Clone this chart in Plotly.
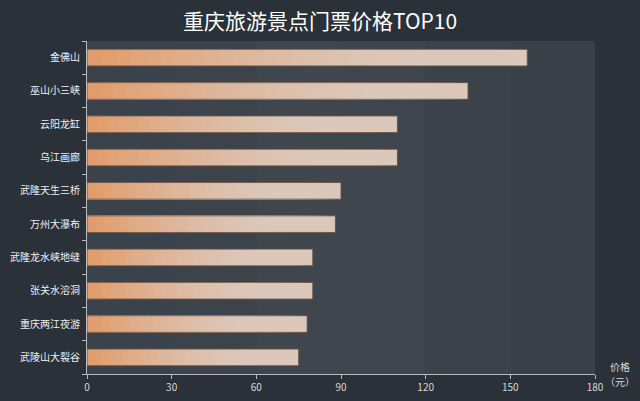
import plotly.graph_objects as go

# data
spots = ["金佛山", "巫山小三峡", "云阳龙缸", "乌江画廊", "武隆天生三桥",
         "万州大瀑布", "武隆龙水峡地缝", "张关水溶洞", "重庆两江夜游", "武陵山大裂谷"]
prices = [156, 135, 110, 110, 90, 88, 80, 80, 78, 75]
x_ticks = [0, 30, 60, 90, 120, 150, 180]

# background bands between the x ticks
band_colors = ["#3a424b", "#3d434b", "#40464e", "#3f454c", "#3c424a", "#3a4048"]

# bar gradient: orange at the base -> beige at the tip
start_rgb = (226, 155, 104)
end_rgb = (219, 200, 187)
n_layers = 30


def mix(t):
    # ease so the orange fades quickly and the tip stays beige
    t = min(1.0, t * 1.3)
    t = 1 - (1 - t) ** 1.5
    r, g, b = [round(a + (c - a) * t) for a, c in zip(start_rgb, end_rgb)]
    return f"rgb({r},{g},{b})"


fig = go.Figure()

# overlaid bars, each one shorter and more orange than the last
for k in range(n_layers):
    frac = 1 - k / n_layers
    fig.add_trace(go.Bar(
        y=spots,
        x=[p * frac for p in prices],
        orientation="h",
        width=0.5,
        marker=dict(color=mix(frac - 0.5 / n_layers), line=dict(width=0)),
        hoverinfo="skip",
        showlegend=False,
    ))

# thin outline on top
fig.add_trace(go.Bar(
    y=spots,
    x=prices,
    orientation="h",
    width=0.5,
    marker=dict(color="rgba(0,0,0,0)", line=dict(color="rgba(105,82,68,0.9)", width=1)),
    hovertemplate="%{y}: %{x}元<extra></extra>",
    showlegend=False,
))

for i, c in enumerate(band_colors):
    fig.add_shape(type="rect", xref="x", yref="paper",
                  x0=x_ticks[i], x1=x_ticks[i + 1], y0=0, y1=1,
                  fillcolor=c, line=dict(width=0), layer="below")

unit_font = dict(size=10, color="#d8d8d8")

fig.update_layout(
    width=640, height=401,
    paper_bgcolor="#2b3138",
    plot_bgcolor="#3c424a",
    barmode="overlay",
    margin=dict(l=87, r=45, t=41, b=27),
    font=dict(family="Noto Sans CJK SC, sans-serif", color="#e8e8e8"),
    title=dict(text="重庆旅游景点门票价格TOP10", x=0.5, xanchor="center",
               y=0.945, yanchor="middle",
               font=dict(size=21, color="#ffffff")),
    xaxis=dict(
        range=[0, 180], tickvals=x_ticks, showgrid=False, zeroline=False,
        showline=True, linecolor="#b8bcc0", linewidth=1, automargin=False,
        ticks="outside", ticklen=4, tickcolor="#b8bcc0",
        tickfont=dict(size=10, color="#d8d8d8"),
    ),
    yaxis=dict(
        categoryorder="array", categoryarray=spots[::-1],
        showgrid=False, zeroline=False, automargin=False,
        showline=True, linecolor="#b8bcc0", linewidth=1,
        ticks="outside", ticklen=4, tickcolor="#b8bcc0", tickson="boundaries",
        ticklabelstandoff=4,
        tickfont=dict(size=10, color="#f0f0f0"),
    ),
    annotations=[
        dict(text="价格", xref="paper", yref="paper", x=1, y=0,
             xanchor="center", yanchor="middle", xshift=25, yshift=8,
             showarrow=False, font=unit_font),
        dict(text="（元）", xref="paper", yref="paper", x=1, y=0,
             xanchor="center", yanchor="middle", xshift=25, yshift=-7,
             showarrow=False, font=unit_font),
    ],
)

# drop the browser's default page margin so the figure sits at 0,0
fig.write_html("out.html", config={"displayModeBar": False},
               post_script="document.body.style.margin='0';")
